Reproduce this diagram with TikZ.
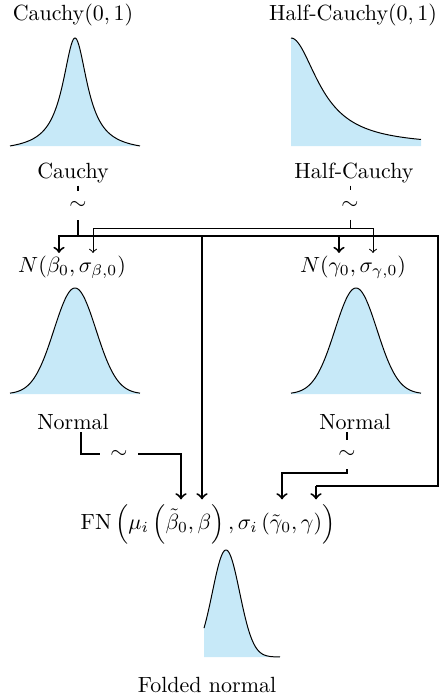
\documentclass[tikz,border=0pt]{standalone}
\usepackage{amsmath}
\definecolor{densfill}{RGB}{199,233,248}
\begin{document}
\begin{tikzpicture}[x=0.455pt,y=-0.455pt,
  lbl/.style={inner sep=1pt},
  simnode/.style={inner sep=0pt, minimum width=17.3pt, minimum height=13.2pt},
  thickln/.style={line width=0.9pt},
  thinln/.style={line width=0.45pt},
  dens/.style={line width=0.45pt},
  >=to]
\useasboundingbox (0,0) rectangle (440,696);

% ---- density curves ----
% Cauchy
\fill[densfill] (10,146) -- plot[domain=10:140,samples=120] (\x,{146-108*(1/(1+((\x-75)/15)*((\x-75)/15))-0.05)/0.95}) -- (140,146) -- cycle;
\draw[dens] plot[domain=10:140,samples=120] (\x,{146-108*(1/(1+((\x-75)/15)*((\x-75)/15))-0.05)/0.95});
% Half-Cauchy
\fill[densfill] (291,146) -- plot[domain=291:421,samples=120] (\x,{146-108/(1+((\x-291)/33)*((\x-291)/33))}) -- (421,146) -- cycle;
\draw[dens] plot[domain=291:421,samples=120] (\x,{146-108/(1+((\x-291)/33)*((\x-291)/33))});
% Normal left
\fill[densfill] (10,394) -- plot[domain=10:140,samples=120] (\x,{394-106*exp(-((\x-75)/21)*((\x-75)/21)/2)}) -- (140,394) -- cycle;
\draw[dens] plot[domain=10:140,samples=120] (\x,{394-106*exp(-((\x-75)/21)*((\x-75)/21)/2)});
% Normal right
\fill[densfill] (291,394) -- plot[domain=291:421,samples=120] (\x,{394-106*exp(-((\x-356)/21)*((\x-356)/21)/2)}) -- (421,394) -- cycle;
\draw[dens] plot[domain=291:421,samples=120] (\x,{394-106*exp(-((\x-356)/21)*((\x-356)/21)/2)});
% Folded normal
\fill[densfill] (204,657) -- plot[domain=204:280,samples=120] (\x,{657-107*exp(-((\x-226)/13.6)*((\x-226)/13.6)/2)}) -- (280,657) -- cycle;
\draw[dens] plot[domain=204:280,samples=120] (\x,{657-107*exp(-((\x-226)/13.6)*((\x-226)/13.6)/2)});

% ---- labels ----
\node[lbl] (tcauchy) at (73,15) {Cauchy$(0,1)$};
\node[lbl] (thalf) at (353,15) {Half-Cauchy$(0,1)$};
\node[lbl] (cauchy) at (73,173) {Cauchy};
\node[lbl] (half) at (354,173) {Half-Cauchy};
\node[lbl] (nb) at (72,267) {$N(\beta_0,\sigma_{\beta,0})$};
\node[lbl] (ng) at (353,267) {$N(\gamma_0,\sigma_{\gamma,0})$};
\node[lbl] (nl) at (73,422) {Normal};
\node[lbl] (nr) at (355,422) {Normal};
\node[inner sep=2pt] (fn) at (208,524) {$\mathrm{FN}\left(\mu_i\left(\tilde\beta_0,\beta\right),\sigma_i\left(\tilde\gamma_0,\gamma\right)\right)$};
\node[lbl] (fold) at (207,685) {Folded normal};

% ---- tilde nodes ----
\node[simnode] (s1) at (78,205.5) {$\sim$};
\node[simnode] (s2) at (350,205) {$\sim$};
\node[simnode] (s3) at (119,454) {$\sim$};
\node[simnode] (s4) at (347,454.5) {$\sim$};

% ---- coordinates ----
\coordinate (jT) at (78,236);
\coordinate (hA) at (59,236);
\coordinate (hB) at (339,236);
\coordinate (hC) at (202,236);
\coordinate (hE) at (438,236);
\coordinate (hE2) at (438,486);
\coordinate (hF) at (316,486);
\coordinate (jt) at (350,228);
\coordinate (tA) at (93,228);
\coordinate (tB) at (373,228);
\coordinate (c1) at (81,454);
\coordinate (c2) at (181,454);
\coordinate (c3) at (347,473);
\coordinate (c4) at (282,473);

% ---- Cauchy (thick) ----
\draw[thickln] (s1.north |- cauchy.south) -- (s1.north);
\draw[thickln] (s1.south) -- (jT);
\draw[thickln,->] (jT) -- (hA) -- (hA |- nb.north);
\draw[thickln] (jT) -- (hE) -- (hE2) -- (hF);
\draw[thickln,->] (hF) -- (hF |- fn.north);
\draw[thickln,->] (hB) -- (hB |- ng.north);
\draw[thickln,->] (hC) -- (hC |- fn.north);

% ---- Half-Cauchy (thin) ----
\draw[thinln] (s2.north |- half.south) -- (s2.north);
\draw[thinln] (s2.south) -- (jt);
\draw[thinln,->] (jt) -- (tA) -- (tA |- nb.north);
\draw[thinln,->] (jt) -- (tB) -- (tB |- ng.north);

% ---- Normal left ----
\draw[thickln] (c1 |- nl.south) -- (c1) -- (s3.west);
\draw[thickln,->] (s3.east) -- (c2) -- (c2 |- fn.north);

% ---- Normal right ----
\draw[thickln] (s4.north |- nr.south) -- (s4.north);
\draw[thickln,->] (s4.south) -- (c3) -- (c4) -- (c4 |- fn.north);
\end{tikzpicture}
\end{document}
